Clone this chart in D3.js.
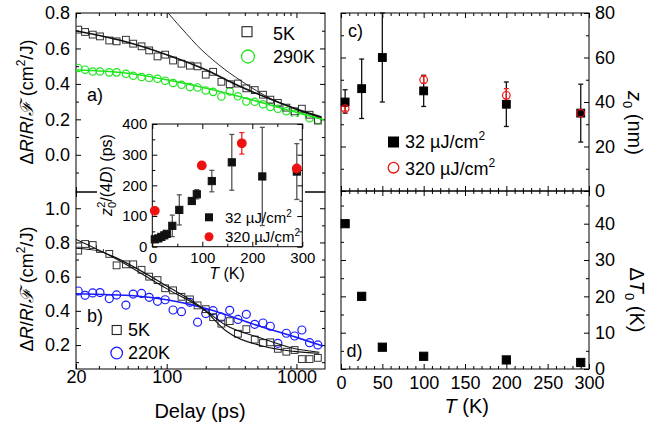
<!DOCTYPE html>
<meta charset="utf-8">
<script src="https://d3js.org/d3.v7.min.js"></script>
<style>
  body { margin: 0; background: #fff; }
  text { font-family: "Liberation Sans", Arial, sans-serif; fill: #000; }
</style>
<div id="chart"></div>
<script>
// ---- data ----
// delays (ps) shared by the transients in a) and b)
var delay = [20.8, 23.5, 26.9, 30.6, 36.1, 41.1, 48.5, 55.2, 64, 73.3, 85, 97.3, 112, 130, 151, 173,
  200, 228, 264, 306, 354, 411, 477, 552, 629, 719, 836, 968, 1101, 1262, 1462];

var a5K = [0.706, 0.693, 0.678, 0.668, 0.645, 0.64, 0.649, 0.627, 0.612, 0.589, 0.555, 0.565, 0.532, 0.514,
  0.503, 0.499, 0.452, 0.468, 0.412, 0.398, 0.402, 0.375, 0.365, 0.339, 0.311, 0.293, 0.266, 0.245, 0.26, 0.226, 0.193];
var a290K = [0.49, 0.48, 0.47, 0.47, 0.465, 0.465, 0.457, 0.446, 0.439, 0.433, 0.429, 0.418, 0.405, 0.395, 0.382,
  0.38, 0.363, 0.355, 0.329, 0.357, 0.33, 0.301, 0.299, 0.285, 0.27, 0.26, 0.246, 0.231, 0.216, 0.206, 0.196];

var b5K = [0.752, 0.791, 0.785, 0.762, 0.733, 0.666, 0.672, 0.672, 0.64, 0.6, 0.58, 0.532, 0.52, 0.482, 0.467,
  0.432, 0.41, 0.363, 0.325, 0.34, 0.266, 0.293, 0.232, 0.212, 0.216, 0.178, 0.161, 0.171, 0.118, 0.118, 0.125];
var b220K = [0.516, 0.491, 0.505, 0.507, 0.472, 0.493, 0.434, 0.498, 0.502, 0.479, 0.456, 0.465, 0.405, 0.395, 0.45,
  0.334, 0.384, 0.401, 0.363, 0.403, 0.35, 0.38, 0.321, 0.329, 0.31, 0.21, 0.269, 0.253, 0.288, 0.214, 0.201];

// fitted curves, read as [delay, value] points
var fitA5K   = [[20, 0.70], [50, 0.635], [100, 0.565], [200, 0.48], [322, 0.405], [600, 0.32], [1050, 0.252], [1560, 0.213]];
var fitA290K = [[20, 0.478], [50, 0.46], [100, 0.423], [322, 0.339], [1050, 0.235], [1620, 0.198]];
var fitAthin = [[95, 0.83], [102.6, 0.8], [142, 0.683], [170, 0.62], [250, 0.51], [376, 0.416], [642, 0.315], [1155, 0.242], [1500, 0.212]];
var fitB5Kp  = [[20, 0.818], [38, 0.717], [100, 0.53], [196, 0.405], [284, 0.317], [537, 0.24], [960, 0.18], [1500, 0.158]];
var fitB5Ks  = [[20, 0.766], [30, 0.75], [38, 0.72], [100, 0.545], [196, 0.405], [284, 0.285], [537, 0.196], [960, 0.163], [1500, 0.152]];
var fitB220K = [[20, 0.5], [58, 0.487], [100, 0.465], [191, 0.418], [537, 0.307], [1000, 0.245], [1600, 0.195]];

// inset: z0^2/(4D) (ps) vs T (K)
var insetLow = [ // 32 uJ/cm2  [T, value, error]
  [5, 24, 4], [12, 27, 4], [18, 32, 4], [24, 37, 4], [29, 42, 4], [40, 68, 35], [54, 120, 49],
  [79, 149, 10], [89, 171, 15], [119, 214, 35], [159, 275, 91], [220, 229, 160], [289, 245, 91]];
var insetHigh = [ // 320 uJ/cm2
  [5, 117, 0], [99, 265, 0], [179, 337, 35], [289, 255, 0]];

// c) z0 (nm) vs T   [T, value, low, high]
var cLow  = [[5, 40, 35, 45.5], [25, 46, 32.6, 59.3], [50, 60, 40, 80], [100, 45, 38, 52], [200, 39, 29, 49], [290, 35, 22, 48]];
var cHigh = [[5, 37, 36, 38], [100, 50, 48.4, 51.7], [200, 43, 40, 46], [290, 35, 34, 36]];

// d) Delta T0 (K) vs T
var dT = [5, 25, 50, 100, 200, 290];
var dVal = [40, 20, 6, 3.5, 2.5, 1.8];

var W = 667, H = 425;
var FONT = "Liberation Sans, Arial, sans-serif";
var svg = d3.select("#chart").append("svg").attr("width", W).attr("height", H);

// ---- scales ----
var xL = d3.scaleLog().domain([20, 1660]).range([76, 325]);
var yA = d3.scaleLinear().domain([-0.21, 0.8]).range([192, 13]);
var yB = d3.scaleLinear().domain([0.06, 1.095]).range([369, 192]);
var xR = d3.scaleLinear().domain([0, 300]).range([341, 589]);
var yC = d3.scaleLinear().domain([0, 80]).range([191, 13]);
var yD = d3.scaleLinear().domain([0, 49]).range([369, 191]);
var xI = d3.scaleLinear().domain([0, 300]).range([152.3, 302.3]);
var yI = d3.scaleLinear().domain([0, 400]).range([246.7, 124]);

function frame(g, x, y, o) {
  var l = x.range()[0], r = x.range()[1], b = y.range()[0], t = y.range()[1];
  function add(axis, tx, ty) {
    g.append("g").attr("transform", "translate(" + tx + "," + ty + ")").call(axis)
      .attr("font-size", o.fs || 18).attr("font-family", FONT)
      .call(function(s) { s.select(".domain").remove(); s.selectAll("line").attr("stroke", "#000"); });
  }
  add(d3.axisBottom(x).tickValues(o.xMaj).tickSize(-5).tickPadding(o.xPad || 3)
    .tickFormat(o.xLab ? (o.xFmt || d3.format("d")) : ""), 0, b);
  add(d3.axisBottom(x).tickValues(o.xMin).tickSize(-3).tickFormat(""), 0, b);
  add(d3.axisTop(x).tickValues(o.xMaj).tickSize(-5).tickFormat(""), 0, t);
  add(d3.axisTop(x).tickValues(o.xMin).tickSize(-3).tickFormat(""), 0, t);
  add(d3.axisLeft(y).tickValues(o.yMaj).tickSize(-5).tickPadding(o.yPad || 6)
    .tickFormat(o.yLeft ? (o.yFmt || d3.format("d")) : ""), l, 0);
  add(d3.axisLeft(y).tickValues(o.yMin).tickSize(-3).tickFormat(""), l, 0);
  add(d3.axisRight(y).tickValues(o.yMaj).tickSize(-5).tickPadding(o.yPad || 6)
    .tickFormat(o.yRight ? (o.yFmt || d3.format("d")) : ""), r, 0);
  add(d3.axisRight(y).tickValues(o.yMin).tickSize(-3).tickFormat(""), r, 0);
  g.append("rect").attr("x", l).attr("y", t).attr("width", r - l).attr("height", b - t)
    .attr("fill", "none").attr("stroke", "#000").attr("stroke-width", 1);
}

function clip(id, x, y) {
  svg.append("clipPath").attr("id", id).append("rect")
    .attr("x", x.range()[0]).attr("y", y.range()[1])
    .attr("width", x.range()[1] - x.range()[0]).attr("height", y.range()[0] - y.range()[1]);
}

function curve(g, pts, x, y, color, w) {
  g.append("path").datum(pts)
    .attr("d", d3.line().x(function(d) { return x(d[0]); }).y(function(d) { return y(d[1]); }).curve(d3.curveMonotoneX))
    .attr("fill", "none").attr("stroke", color).attr("stroke-width", w);
}

function squares(g, xs, ys, x, y, s, fill, stroke) {
  g.selectAll(null).data(xs).enter().append("rect")
    .attr("x", function(d) { return x(d) - s / 2; })
    .attr("y", function(d, i) { return y(ys[i]) - s / 2; })
    .attr("width", s).attr("height", s)
    .attr("fill", fill).attr("stroke", stroke).attr("stroke-width", 1);
}

function circles(g, xs, ys, x, y, r, fill, stroke) {
  g.selectAll(null).data(xs).enter().append("circle")
    .attr("cx", function(d) { return x(d); })
    .attr("cy", function(d, i) { return y(ys[i]); })
    .attr("r", r).attr("fill", fill).attr("stroke", stroke).attr("stroke-width", 1.2);
}

function errbars(g, rows, x, y, color, cap) {
  rows.forEach(function(d) {
    var lo = d[2], hi = d[3];
    if (hi - lo <= 0) return;
    var cx = x(d[0]);
    g.append("line").attr("x1", cx).attr("x2", cx).attr("y1", y(lo)).attr("y2", y(hi))
      .attr("stroke", color).attr("stroke-width", 1.3);
    [lo, hi].forEach(function(v) {
      g.append("line").attr("x1", cx - cap).attr("x2", cx + cap).attr("y1", y(v)).attr("y2", y(v))
        .attr("stroke", color).attr("stroke-width", 1.3);
    });
  });
}

function label(g, x, y, txt, fs, anchor) {
  return g.append("text").attr("x", x).attr("y", y).attr("font-size", fs)
    .attr("text-anchor", anchor || "start").text(txt);
}

var logMin = [30, 40, 50, 60, 70, 80, 90, 200, 300, 400, 500, 600, 700, 800, 900];
var tMin = d3.range(10, 300, 10).filter(function(v) { return v % 50 !== 0; });

// ---- panel a ----
var ga = svg.append("g");
clip("clipA", xL, yA);
frame(ga, xL, yA, { xMaj: [20, 100, 1000], xMin: logMin, yMaj: [0, 0.2, 0.4, 0.6, 0.8], yMin: [-0.1, 0.1, 0.3, 0.5, 0.7],
  yLeft: true, yFmt: d3.format(".1f") });
var pa = ga.append("g").attr("clip-path", "url(#clipA)");
circles(pa, delay, a290K, xL, yA, 3.7, "none", "#1ee61e");
squares(pa, delay, a5K, xL, yA, 6.8, "none", "#333");
curve(pa, fitA290K, xL, yA, "#1ee61e", 1.6);
curve(pa, fitA5K, xL, yA, "#111", 1.6);
curve(pa, fitAthin, xL, yA, "#111", 0.9);
label(ga, 87, 101, "a)", 18);
ga.append("rect").attr("x", 242).attr("y", 26.7).attr("width", 10).attr("height", 10)
  .attr("fill", "none").attr("stroke", "#222").attr("stroke-width", 1.1);
label(ga, 273, 40, "5K", 18);
ga.append("circle").attr("cx", 248).attr("cy", 56.5).attr("r", 6.5)
  .attr("fill", "none").attr("stroke", "#1ee61e").attr("stroke-width", 1.3);
label(ga, 273, 63, "290K", 18);

// ---- panel b ----
var gb = svg.append("g");
clip("clipB", xL, yB);
frame(gb, xL, yB, { xMaj: [20, 100, 1000], xMin: logMin, yMaj: [0.2, 0.4, 0.6, 0.8, 1.0], yMin: [0.1, 0.3, 0.5, 0.7, 0.9],
  yLeft: true, yFmt: d3.format(".1f"), xLab: true, xPad: 1.5 });
var pb = gb.append("g").attr("clip-path", "url(#clipB)");
circles(pb, delay, b220K, xL, yB, 4, "none", "#1a1aff");
squares(pb, delay, b5K, xL, yB, 6.8, "none", "#333");
curve(pb, fitB220K, xL, yB, "#1a1aff", 1.6);
curve(pb, fitB5Kp, xL, yB, "#111", 1.1);
curve(pb, fitB5Ks, xL, yB, "#111", 1.1);
label(gb, 87, 322, "b)", 18);
gb.append("rect").attr("x", 112.2).attr("y", 325.5).attr("width", 9).attr("height", 9)
  .attr("fill", "none").attr("stroke", "#222").attr("stroke-width", 1.1);
label(gb, 128, 336, "5K", 18);
gb.append("circle").attr("cx", 116.7).attr("cy", 353).attr("r", 5.8)
  .attr("fill", "none").attr("stroke", "#1a1aff").attr("stroke-width", 1.3);
label(gb, 128, 359, "220K", 18);

// left y titles
[102, 289].forEach(function(cy) {
  var t = svg.append("text").attr("transform", "translate(33," + cy + ") rotate(-90)")
    .attr("text-anchor", "middle").attr("font-size", 18);
  t.append("tspan").text("\u0394");
  t.append("tspan").attr("font-style", "italic").text("R");
  t.append("tspan").text("/");
  t.append("tspan").attr("font-style", "italic").text("R");
  t.append("tspan").text("/");
  t.append("tspan").attr("font-style", "italic").attr("font-family", "DejaVu Serif").text("\u2131");
  t.append("tspan").text(" (cm");
  t.append("tspan").attr("font-size", 12).attr("dy", -8).text("2");
  t.append("tspan").attr("dy", 8).text("/J)");
});
label(svg, 200, 418, "Delay (ps)", 20, "middle");

// ---- inset ----
var gi = svg.append("g");
gi.append("rect").attr("x", 97).attr("y", 117).attr("width", 208).attr("height", 132).attr("fill", "#fff");
frame(gi, xI, yI, { xMaj: [0, 100, 200, 300], xMin: [50, 150, 250], yMaj: [0, 100, 200, 300, 400],
  yMin: [50, 150, 250, 350], yLeft: true, xLab: true, xPad: 5.5, yPad: 5, fs: 15 });
errbars(gi, insetLow.map(function(d) { return [d[0], d[1], d[1] - d[2], d[1] + d[2]]; }), xI, yI, "#555", 2.5);
errbars(gi, insetHigh.map(function(d) { return [d[0], d[1], d[1] - d[2], d[1] + d[2]]; }), xI, yI, "#e22", 2.5);
squares(gi, insetLow.map(function(d) { return d[0]; }), insetLow.map(function(d) { return d[1]; }), xI, yI, 7.2, "#111", "#111");
circles(gi, insetHigh.map(function(d) { return d[0]; }), insetHigh.map(function(d) { return d[1]; }), xI, yI, 4.3, "#ee1111", "#ee1111");
gi.append("rect").attr("x", 205).attr("y", 213.3).attr("width", 8).attr("height", 8).attr("fill", "#111");
var li1 = label(gi, 225, 223, "32 \u00b5J/cm", 15);
li1.append("tspan").attr("font-size", 10).attr("dy", -6).text("2");
gi.append("circle").attr("cx", 209).attr("cy", 236.7).attr("r", 4.5).attr("fill", "#ee1111");
var li2 = label(gi, 225, 242, "320 \u00b5J/cm", 15);
li2.append("tspan").attr("font-size", 10).attr("dy", -6).text("2");
var ty = gi.append("text").attr("transform", "translate(112,175) rotate(-90)").attr("text-anchor", "middle").attr("font-size", 16);
ty.append("tspan").attr("font-style", "italic").text("z");
ty.append("tspan").attr("font-size", 11).attr("dy", 4).text("0");
ty.append("tspan").attr("font-size", 11).attr("dx", -6).attr("dy", -11).text("2");
ty.append("tspan").attr("dy", 7).text("/(4");
ty.append("tspan").attr("font-style", "italic").text("D");
ty.append("tspan").text(") (ps)");
var tx = label(gi, 227, 279, "", 16, "middle");
tx.append("tspan").attr("font-style", "italic").text("T");
tx.append("tspan").text(" (K)");

// ---- panel c ----
var gc = svg.append("g");
frame(gc, xR, yC, { xMaj: [0, 50, 100, 150, 200, 250, 300], xMin: tMin, yMaj: [0, 20, 40, 60, 80], yMin: [10, 30, 50, 70],
  yRight: true });
errbars(gc, cLow, xR, yC, "#111", 2.5);
errbars(gc, cHigh, xR, yC, "#e22", 2.5);
squares(gc, cLow.map(function(d) { return d[0]; }), cLow.map(function(d) { return d[1]; }), xR, yC, 7.8, "#000", "#000");
circles(gc, cHigh.map(function(d) { return d[0]; }), cHigh.map(function(d) { return d[1]; }), xR, yC, 3.8, "none", "#ee1111");
label(gc, 348, 37, "c)", 18);
gc.append("rect").attr("x", 388).attr("y", 136.5).attr("width", 11).attr("height", 11).attr("fill", "#000");
var lc1 = label(gc, 405, 148, "32 \u00b5J/cm", 18);
lc1.append("tspan").attr("font-size", 12).attr("dy", -8).text("2");
gc.append("circle").attr("cx", 393.5).attr("cy", 167.7).attr("r", 5.3).attr("fill", "none")
  .attr("stroke", "#ee1111").attr("stroke-width", 1.3);
var lc2 = label(gc, 405, 175, "320 \u00b5J/cm", 18);
lc2.append("tspan").attr("font-size", 12).attr("dy", -8).text("2");
var tc = svg.append("text").attr("transform", "translate(628,123) rotate(90)").attr("text-anchor", "middle").attr("font-size", 20);
tc.append("tspan").attr("font-style", "italic").text("z");
tc.append("tspan").attr("font-size", 13).attr("dy", 5).text("0");
tc.append("tspan").attr("dy", -5).text(" (nm)");

// ---- panel d ----
var gd = svg.append("g");
frame(gd, xR, yD, { xMaj: [0, 50, 100, 150, 200, 250, 300], xMin: tMin, yMaj: [0, 10, 20, 30, 40], yMin: [5, 15, 25, 35, 45],
  yRight: true, xLab: true, xPad: 7.5 });
squares(gd, dT, dVal, xR, yD, 8.2, "#000", "#000");
label(gd, 346.5, 357, "d)", 18);
var td = svg.append("text").attr("transform", "translate(630,300) rotate(90)").attr("text-anchor", "middle").attr("font-size", 20);
td.append("tspan").text("\u0394");
td.append("tspan").attr("font-style", "italic").text("T");
td.append("tspan").attr("font-size", 13).attr("dy", 5).text("0");
td.append("tspan").attr("dy", -5).text(" (K)");
var txd = label(svg, 466.7, 413, "", 20, "middle");
txd.append("tspan").attr("font-style", "italic").text("T");
txd.append("tspan").text(" (K)");
</script>
